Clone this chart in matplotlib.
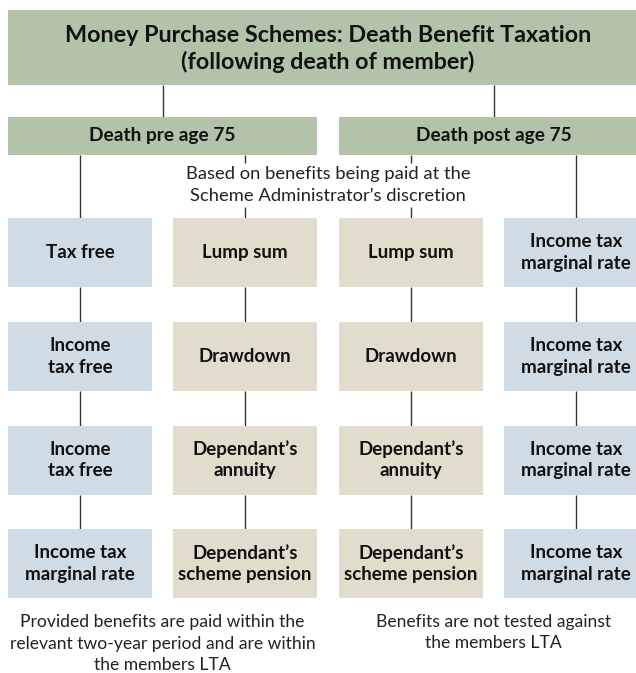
import matplotlib
matplotlib.use("Agg")
import matplotlib.pyplot as plt
from matplotlib.patches import Rectangle

# ---- content ----
title_lines = ["Money Purchase Schemes: Death Benefit Taxation", "(following death of member)"]
branch_labels = ["Death pre age 75", "Death post age 75"]
discretion_note = "Based on benefits being paid at the\nScheme Administrator\u2019s discretion"
col1_labels = ["Tax free", "Income\ntax free", "Income\ntax free", "Income tax\nmarginal rate"]
col2_labels = ["Lump sum", "Drawdown", "Dependant\u2019s\nannuity", "Dependant\u2019s\nscheme pension"]
col3_labels = ["Lump sum", "Drawdown", "Dependant\u2019s\nannuity", "Dependant\u2019s\nscheme pension"]
col4_labels = ["Income tax\nmarginal rate", "Income tax\nmarginal rate", "Income tax\nmarginal rate", "Income tax\nmarginal rate"]
col_kinds = ["tax", "benefit", "benefit", "tax"]
footnotes = ["Provided benefits are paid within the\nrelevant two-year period and are within\nthe members LTA",
             "Benefits are not tested against\nthe members LTA"]

# ---- style ----
GREEN = "#b2c3a9"
BLUE = "#d0dce5"
BEIGE = "#e1dccc"
LINE = "#333333"
kind_color = {"tax": BLUE, "benefit": BEIGE}
FONT = "Lato"

W, H = 636, 673
fig = plt.figure(figsize=(W / 100, H / 100), dpi=100)
ax = fig.add_axes([0, 0, 1, 1])
ax.set_xlim(0, W)
ax.set_ylim(H, 0)
ax.axis("off")

# layout
left = 8
col_w = 144
col_x = [8, 173, 339, 504]
row_y = [218, 322, 425.5, 529]
box_h = 69
title_y0, title_y1 = 10, 85
sub_y0, sub_y1 = 117, 155
right_edge = col_x[3] + col_w
foot_first = 622
foot_step = 21.5

def box(x0, y0, w, h, color):
    ax.add_patch(Rectangle((x0, y0), w, h, facecolor=color, edgecolor="none", zorder=2))

def vline(x, y0, y1):
    ax.plot([x, x], [y0, y1], color=LINE, lw=1.0, zorder=1, solid_capstyle="butt")

# title
box(left, title_y0, right_edge - left, title_y1 - title_y0, GREEN)
ax.text((left + right_edge) / 2, 49, "\n".join(title_lines),
        ha="center", va="center", fontsize=16.8, fontweight="bold", family=FONT,
        linespacing=1.3, color="#111111", zorder=3)

# branches
sub_x = [(col_x[0], col_x[1] + col_w), (col_x[2], right_edge)]
for (x0, x1), lab in zip(sub_x, branch_labels):
    cx = (x0 + x1) / 2
    box(x0, sub_y0, x1 - x0, sub_y1 - sub_y0, GREEN)
    ax.text(cx, (sub_y0 + sub_y1) / 2, lab, ha="center", va="center", fontsize=13.8,
            fontweight="bold", family=FONT, color="#111111", zorder=3)
    vline(cx, title_y1, sub_y0)

# discretion note
ax.text((col_x[1] + col_x[2] + col_w) / 2, 185, discretion_note, ha="center", va="center",
        fontsize=13.2, family=FONT, linespacing=1.4, color="#222222", zorder=3)

# columns
cols = [col1_labels, col2_labels, col3_labels, col4_labels]
for ci, (labels, kind) in enumerate(zip(cols, col_kinds)):
    x0 = col_x[ci]
    cx = x0 + col_w / 2
    if kind == "tax":
        vline(cx, sub_y1, row_y[0])
    else:
        vline(cx, sub_y1, 163)
        vline(cx, 207, row_y[0])
    for ri, lab in enumerate(labels):
        y0 = row_y[ri]
        box(x0, y0, col_w, box_h, kind_color[kind])
        ax.text(cx, y0 + box_h / 2, lab, ha="center", va="center", fontsize=13.5,
                fontweight="bold", family=FONT, linespacing=1.3, color="#111111", zorder=3)
        if ri < len(labels) - 1:
            vline(cx, y0 + box_h, row_y[ri + 1])

# footnotes
for (x0, x1), txt in zip(sub_x, footnotes):
    n = txt.count("\n") + 1
    ax.text((x0 + x1) / 2, foot_first + (n - 1) * foot_step / 2, txt, ha="center", va="center",
            fontsize=12.6, family=FONT, linespacing=1.42, color="#222222", zorder=3)

fig.savefig("out.png", dpi=100)
